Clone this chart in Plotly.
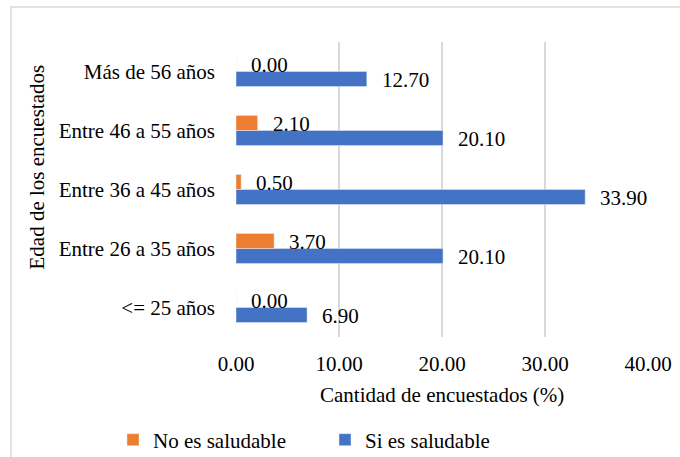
import plotly.graph_objects as go

# Age groups (bottom to top) and share of respondents per answer
categories = ["<= 25 años", "Entre 26 a 35 años", "Entre 36 a 45 años",
              "Entre 46 a 55 años", "Más de 56 años"]
no_saludable = [0.00, 3.70, 0.50, 2.10, 0.00]
si_saludable = [6.90, 20.10, 33.90, 20.10, 12.70]
x_ticks = [0, 10, 20, 30, 40]

ORANGE = "#ED7D31"
BLUE = "#4472C4"
GRID = "#D9D9D9"
FONT = "Liberation Serif, Times New Roman, serif"
FS = 21

W, H = 680, 457
ML, MR, MT, MB = 236, 32, 42, 120
PW, PH = W - ML - MR, H - MT - MB

fig = go.Figure()
# blue first so the orange bar sits above it inside each group
fig.add_trace(go.Bar(y=categories, x=si_saludable, orientation="h",
                     name="Si es saludable", marker_color=BLUE,
                     legendrank=2))
fig.add_trace(go.Bar(y=categories, x=no_saludable, orientation="h",
                     name="No es saludable", marker_color=ORANGE,
                     legendrank=1))

# value labels at the end of each bar
annotations = []
for cat, v in zip(categories, no_saludable):
    annotations.append(dict(x=v, y=cat, xref="x", yref="y", text=f"{v:.2f}",
                            showarrow=False, xanchor="left", yanchor="middle",
                            xshift=13, yshift=6.5,
                            font=dict(family=FONT, size=FS, color="#000")))
for cat, v in zip(categories, si_saludable):
    annotations.append(dict(x=v, y=cat, xref="x", yref="y", text=f"{v:.2f}",
                            showarrow=False, xanchor="left", yanchor="middle",
                            xshift=13, yshift=-8.5,
                            font=dict(family=FONT, size=FS, color="#000")))

# axis titles
annotations.append(dict(x=0.5, y=0, xref="paper", yref="paper",
                        text="Cantidad de encuestados (%)", showarrow=False,
                        xanchor="center", yanchor="middle", yshift=-58,
                        font=dict(family=FONT, size=FS, color="#000")))
annotations.append(dict(x=0, y=0.5, xref="paper", yref="paper",
                        text="Edad de los encuestados", showarrow=False,
                        textangle=-90, xanchor="center", yanchor="middle",
                        xshift=-200, yshift=22,
                        font=dict(family=FONT, size=FS, color="#000")))

# outer chart frame
shapes = [dict(type="rect", xref="paper", yref="paper",
               x0=(11 - ML) / PW, x1=(W + 10 - ML) / PW,
               y0=-(H + 10 - MT - PH) / PH, y1=1 + (MT - 7) / PH,
               line=dict(color=GRID, width=1.5), fillcolor="rgba(0,0,0,0)",
               layer="below")]

fig.update_layout(
    width=W, height=H,
    margin=dict(l=ML, r=MR, t=MT, b=MB, autoexpand=False),
    paper_bgcolor="white", plot_bgcolor="white",
    barmode="group", bargap=0.49, bargroupgap=0,
    font=dict(family=FONT, size=FS, color="#000"),
    showlegend=True,
    legend=dict(orientation="h", x=(113 - ML) / PW, xanchor="left",
                y=-(440 - MT - PH) / PH, yanchor="middle",
                entrywidth=167, entrywidthmode="pixels",
                bgcolor="rgba(0,0,0,0)",
                font=dict(family=FONT, size=FS, color="#000")),
    xaxis=dict(range=[0, 40], tickvals=x_ticks, tickformat=".2f",
               showgrid=True, gridcolor=GRID, gridwidth=1.5,
               zeroline=False, showline=False, ticks="", automargin=False,
               ticklabelstandoff=12, fixedrange=True),
    yaxis=dict(categoryorder="array", categoryarray=categories,
               showgrid=False, zeroline=False, showline=False, ticks="",
               automargin=False, ticklabelstandoff=20, fixedrange=True),
    annotations=annotations,
    shapes=shapes,
)

fig.write_html("out.html")
